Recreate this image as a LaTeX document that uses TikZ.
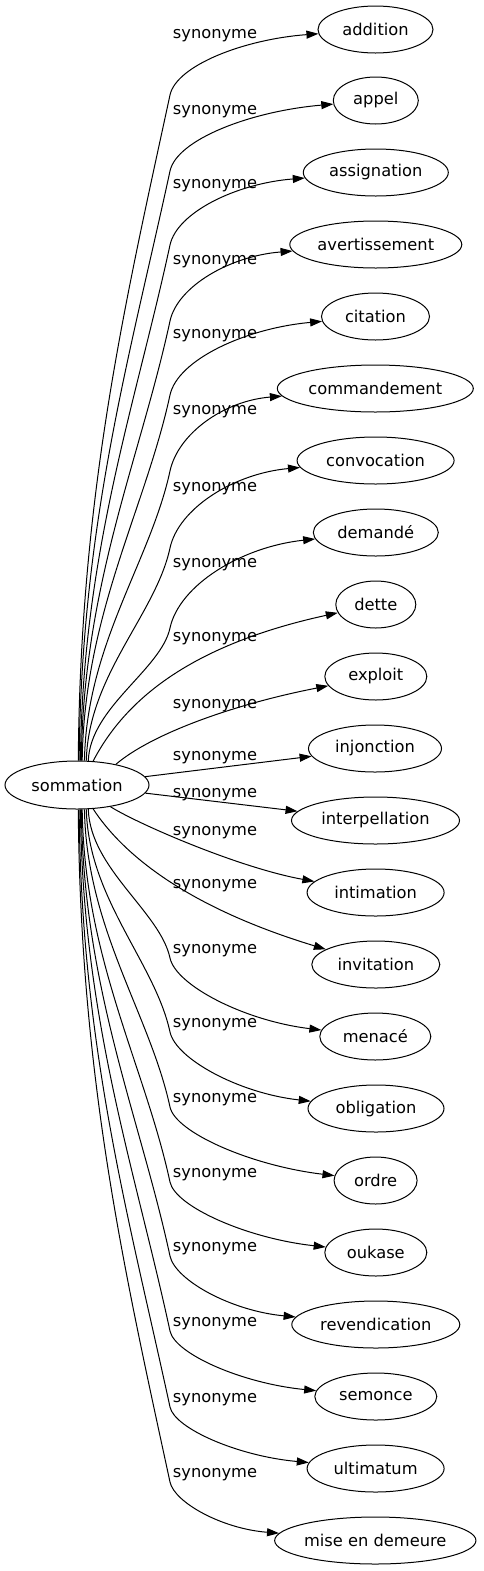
\documentclass[tikz,border=0pt]{standalone}
\usepackage{fontspec}
\setmainfont{DejaVu Sans}
\usetikzlibrary{shapes.geometric,arrows.meta,calc}
\tikzset{
  every node/.style={font=\fontsize{12.2}{14}\selectfont},
  src/.style={ellipse,draw,line width=0.75pt,minimum width=108pt,minimum height=36pt,inner sep=0pt},
  tn/.style={ellipse,draw,line width=0.75pt,minimum width=#1*0.75pt,minimum height=35.25pt,inner sep=0pt},
  syn/.style={draw,line width=0.75pt,-{Triangle[length=9pt,width=6pt]}},
  lab/.style={anchor=base,inner sep=0pt}
}
\begin{document}
\begin{tikzpicture}[x=0.75pt,y=-0.75pt]
\useasboundingbox (0,0) rectangle (483,1571);
\node[src] (src) at (77,785) {sommation};
\node[tn=115] (n0) at (375.5,29.5) {addition};
\node[tn=85] (n1) at (375.8,100.5) {appel};
\node[tn=145] (n2) at (375.8,172.5) {assignation};
\node[tn=172] (n3) at (375.8,244.5) {avertissement};
\node[tn=108] (n4) at (375.5,316.5) {citation};
\node[tn=196] (n5) at (375.3,388.5) {commandement};
\node[tn=157] (n6) at (375.6,460.5) {convocation};
\node[tn=125] (n7) at (375.8,532.5) {demandé};
\node[tn=80] (n8) at (375.8,604.5) {dette};
\node[tn=102] (n9) at (375.8,676.5) {exploit};
\node[tn=133] (n10) at (375,748.5) {injonction};
\node[tn=168] (n11) at (375.5,820.5) {interpellation};
\node[tn=137] (n12) at (375.6,892.5) {intimation};
\node[tn=128] (n13) at (375.8,964.5) {invitation};
\node[tn=111] (n14) at (375.3,1036.5) {menacé};
\node[tn=136] (n15) at (376,1108.5) {obligation};
\node[tn=83] (n16) at (375.6,1180.5) {ordre};
\node[tn=102] (n17) at (375.8,1252.5) {oukase};
\node[tn=168] (n18) at (375.8,1324.5) {revendication};
\node[tn=122] (n19) at (375.8,1396.5) {semonce};
\node[tn=137] (n20) at (375.6,1468.5) {ultimatum};
\node[tn=196] (n21) at (375.3,1540.5) {mise en demeure};
% labels
\foreach \k/\yl in {0/33,1/109,2/183,3/259,4/333,5/409,6/486,7/562,8/636,9/703,10/755,11/792,12/830,13/883,14/948,15/1022,16/1097,17/1172,18/1246,19/1321,20/1397,21/1472}{
  \node[lab] (l\k) at (215,\yl+5.5) {synonyme};
}
% upper generic edges
\foreach \i/\yt/\yB/\a in {0/29.5/95/87.6,1/100.5/171/85.2,2/172.5/245/82.9,3/244.5/321/80.5,4/316.5/395/78.2,5/388.5/471/73.7,6/460.5/548/69.3,7/532.5/628/65.1}{
  \pgfmathsetmacro\L{762-\yB}
  \pgfmathsetmacro\cay{-0.4*\L}
  \pgfmathsetmacro\cbx{170-0.067*\L}
  \pgfmathsetmacro\cby{\yB+0.31*\L}
  \pgfmathsetmacro\ccx{170+0.0973*(\yB-\yt)}
  \pgfmathsetmacro\ccy{\yB-0.45*(\yB-\yt)}
  \pgfmathsetmacro\cdd{0.15*(\yB-\yt)}
  \draw[syn] (src.\a) .. controls ($(src.\a)+(2,\cay)$) and (\cbx,\cby) .. (170,\yB)
     .. controls (\ccx,\ccy) and ($(n\i.west)!0.5!(170,\yt)+(0,\cdd)$) .. (n\i);
}
% lower generic edges
\foreach \i/\yt/\yB/\a in {14/1036.5/958/-65.1,15/1108.5/1032/-69.3,16/1180.5/1107/-73.7,17/1252.5/1182/-78.2,18/1324.5/1256/-80.5,19/1396.5/1331/-82.9,20/1468.5/1407/-85.2,21/1540.5/1482/-87.6}{
  \pgfmathsetmacro\L{\yB-809}
  \pgfmathsetmacro\cay{0.4*\L}
  \pgfmathsetmacro\cbx{170-0.067*\L}
  \pgfmathsetmacro\cby{\yB-0.31*\L}
  \pgfmathsetmacro\ccx{170+0.0756*(\yt-\yB)}
  \pgfmathsetmacro\ccy{\yB+0.35*(\yt-\yB)}
  \pgfmathsetmacro\cdd{-0.2*(\yt-\yB)}
  \draw[syn] (src.\a) .. controls ($(src.\a)+(2,\cay)$) and (\cbx,\cby) .. (170,\yB)
     .. controls (\ccx,\ccy) and ($(n\i.west)!0.5!(170,\yt)+(0,\cdd)$) .. (n\i);
}
% near edges
\draw[syn] (src.56) .. controls (125,700) and (190,645) .. (n8);
\draw[syn] (src.28) .. controls (150,735) and (230,705) .. (n9);
\draw[syn] (src) -- (n10);
\draw[syn] (src) -- (n11);
\draw[syn] (src.-33) .. controls (140,825) and (240,868) .. (n12);
\draw[syn] (src.-56) .. controls (120,850) and (180,905) .. (n13);
\end{tikzpicture}
\end{document}
